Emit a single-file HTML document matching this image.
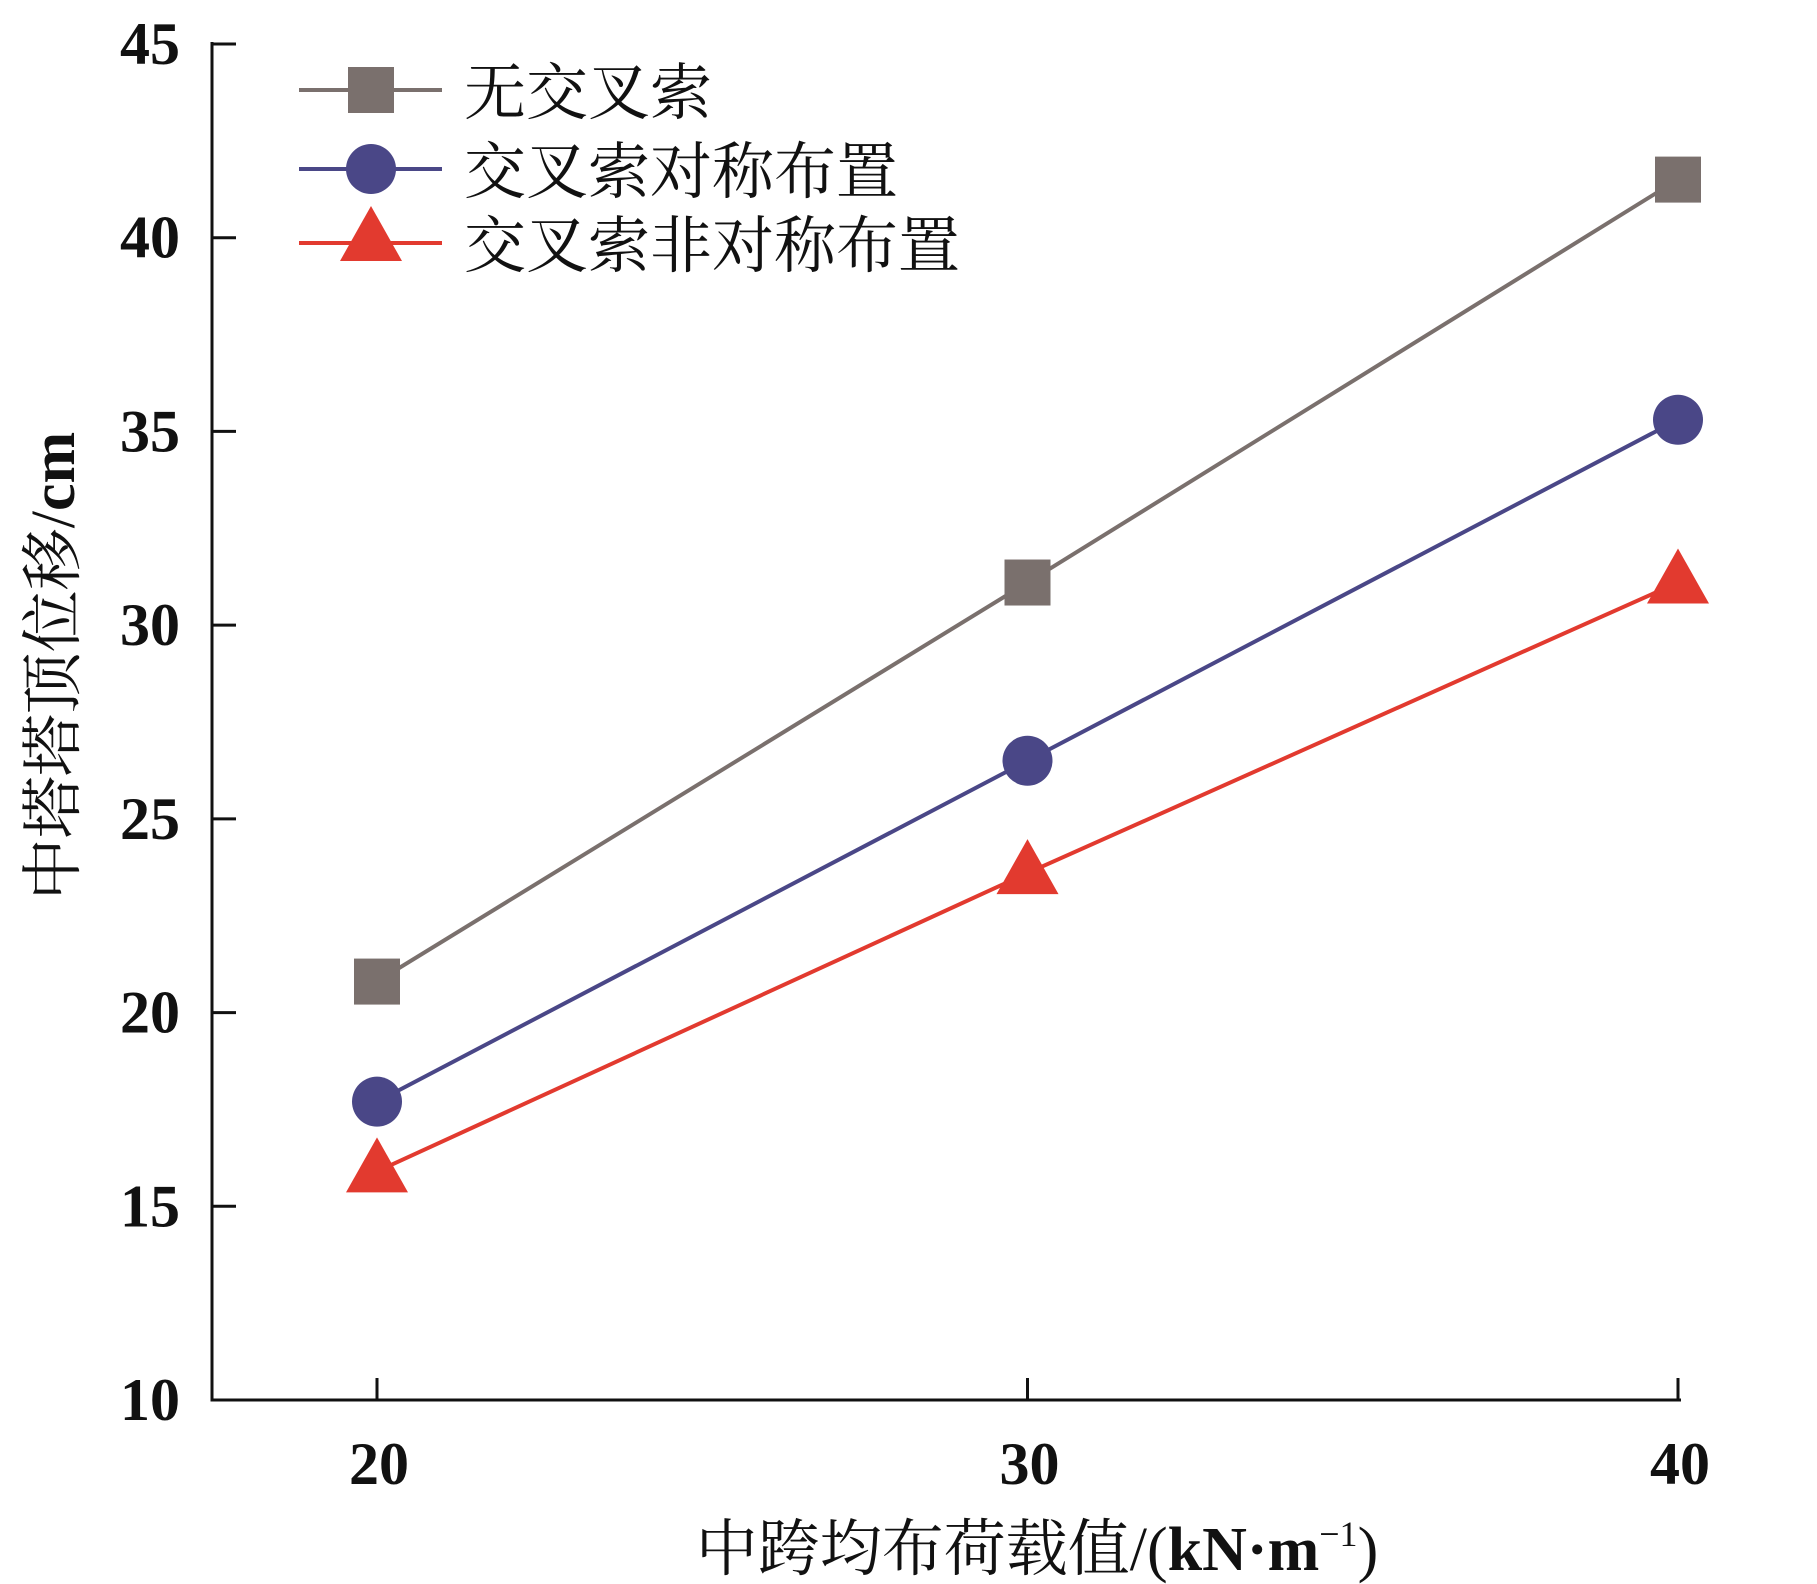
<!DOCTYPE html>
<html><head><meta charset="utf-8"><style>
html,body{margin:0;padding:0;background:#fff;}
svg{display:block;}
.tk{font-family:"Liberation Serif","Noto Serif CJK SC",serif;font-weight:bold;font-size:60px;fill:#111;}
.cj{font-family:"Liberation Serif","Noto Serif CJK SC",serif;font-size:62px;fill:#111;}
</style></head><body>
<svg id="chart" width="1817" height="1584" viewBox="0 0 1817 1584"></svg>
<script>
const categories=[20,30,40];
const seriesNone=[20.8,31.1,41.5];
const seriesSym=[17.7,26.5,35.3];
const seriesAsym=[15.9,23.6,31.1];
const yTicks=[10,15,20,25,30,35,40,45];
const xTickLabels=["20","30","40"];
const seriesNames=["无交叉索","交叉索对称布置","交叉索非对称布置"];

const NS="http://www.w3.org/2000/svg";
const svg=document.getElementById('chart');
const X0=212,XR=1681,Y0=1400,YT=44;
function xs(v){return 377+(v-20)*(1678-377)/20;}
function ys(v){return Y0-(v-10)*(Y0-YT)/35;}
function mk(tag,attrs,parent){const e=document.createElementNS(NS,tag);for(const k in attrs)e.setAttribute(k,attrs[k]);(parent||svg).appendChild(e);return e;}

let a=mk('line',{x1:X0,y1:YT-2,x2:X0,y2:Y0,stroke:'#111','stroke-width':3});


a=mk('line',{x1:X0-1.5,y1:Y0,x2:XR,y2:Y0,stroke:'#111','stroke-width':3});


yTicks.forEach(t=>{
  const y=ys(t);
  const l=mk('line',{x1:X0,y1:y,x2:X0+24,y2:y,stroke:'#111','stroke-width':3});
  
  
  const tx=mk('text',{x:180,y:y+20,'text-anchor':'end',class:'tk'});
  tx.textContent=t;
  
  
});
categories.forEach((c,i)=>{
  const x=xs(c);
  const l=mk('line',{x1:x,y1:Y0,x2:x,y2:Y0-22,stroke:'#111','stroke-width':3});
  
  
  const tx=mk('text',{x:x+2,y:1484,'text-anchor':'middle',class:'tk'});
  tx.textContent=xTickLabels[i];
  
  
});
let t=mk('text',{x:1037,y:1570,'text-anchor':'middle',class:'cj'});
t.innerHTML='中跨均布荷载值/(<tspan font-weight="bold">kN·m</tspan><tspan font-size="36" dy="-24">−1</tspan><tspan dy="24">)</tspan>';


t=mk('text',{x:0,y:0,'text-anchor':'middle',class:'cj',transform:'translate(74,666) rotate(-90)'});
t.innerHTML='中塔塔顶位移/<tspan font-weight="bold">cm</tspan>';



function marker(type,x,y,color,g){
  let m;
  if(type==='sq') m=mk('rect',{x:x-23,y:y-23,width:46,height:46,fill:color},g);
  else if(type==='ci') m=mk('circle',{cx:x,cy:y,r:25,fill:color},g);
  else m=mk('polygon',{points:`${x},${y-34} ${x-31},${y+21} ${x+31},${y+21}`,fill:color},g);
  return m;
}
const series=[[seriesNone,'#7a706d','sq'],[seriesSym,'#4a4787','ci'],[seriesAsym,'#e23a2f','tr']];
series.forEach((s,si)=>{
  const g=mk('g',{});
  
  
  const pts=s[0].map((v,i)=>xs(categories[i])+','+ys(v)).join(' ');
  const pl=mk('polyline',{points:pts,fill:'none',stroke:s[1],'stroke-width':4},g);
  
  
  s[0].forEach((v,i)=>{
    const m=marker(s[2],xs(categories[i]),ys(v),s[1],g);
    
    
  });
  const ly=[90,169,243][si];
  const lg=mk('g',{});
  
  
  mk('line',{x1:299,y1:ly,x2:442,y2:ly,stroke:s[1],'stroke-width':4},lg);
  marker(s[2],371,ly+(s[2]==='tr'?-3:0),s[1],lg);
  const lt=mk('text',{x:464,y:ly+24,class:'cj'},lg);
  lt.textContent=seriesNames[si];
});
</script>
</body></html>
